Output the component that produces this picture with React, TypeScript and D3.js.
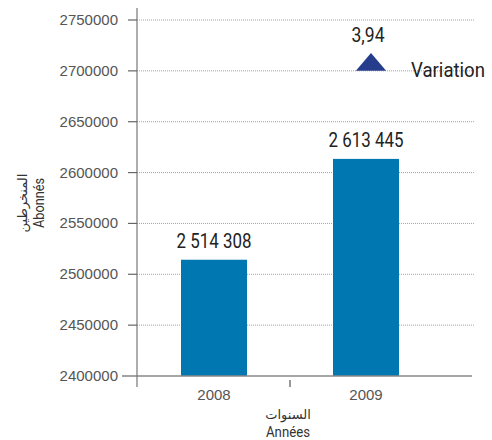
import React from "react";
import * as d3 from "d3";

const categories = ["2008", "2009"];
const values = [2514308, 2613445];
const valueLabels = ["2 514 308", "2 613 445"];
const yTicks = [2400000, 2450000, 2500000, 2550000, 2600000, 2650000, 2700000, 2750000];
const variationValue = "3,94";
const variationLabel = "Variation";
const variationLevel = 2700000;
const yTitleAr = "المنخرطين";
const yTitleFr = "Abonnés";
const xTitleAr = "السنوات";
const xTitleFr = "Années";

const W = 492;
const H = 440;
const narrow = "Roboto, 'Liberation Sans', sans-serif";
const regular = "'Liberation Sans', Arial, sans-serif";
const arabic = "'DejaVu Sans', 'Noto Sans', sans-serif";

export default function App() {
  const axisX = 137;
  const y = d3.scaleLinear().domain([2400000, 2750000]).range([376, 20]);
  const x = d3.scaleBand<string>().domain(categories).range([138, 442]).padding(0);
  const barW = 66;
  const gridEnd = 474;

  const tri = d3.symbol().type(d3.symbolTriangle).size(300)();

  return (
    <svg width={W} height={H} style={{ position: "absolute", left: 0, top: 0 }}>
      <rect width={W} height={H} fill="#fff" />
      {yTicks.filter((t) => t !== 2400000).map((t) => (
        <line key={"g" + t} x1={axisX} x2={gridEnd} y1={y(t)} y2={y(t)} stroke="#8a8a8a" strokeWidth={0.8} strokeDasharray="1,1" />
      ))}
      {categories.map((c, i) => {
        const cx = (x(c) as number) + x.bandwidth() / 2;
        return (
          <g key={c}>
            <rect x={cx - barW / 2} y={y(values[i])} width={barW} height={y(2400000) - y(values[i])} fill="#0077b0" />
            <text x={cx} y={y(values[i]) - 12} textAnchor="middle" fontFamily={narrow} fontSize={21} fill="#222" textLength={75} lengthAdjust="spacingAndGlyphs">{valueLabels[i]}</text>
            <text x={cx} y={400} textAnchor="middle" fontFamily={regular} fontSize={15} fill="#555">{c}</text>
          </g>
        );
      })}
      <line x1={axisX} x2={axisX} y1={8} y2={387} stroke="#777" strokeWidth={1.2} />
      {yTicks.map((t) => (
        <g key={"t" + t}>
          <line x1={t === 2400000 ? 122 : 128} x2={axisX} y1={y(t)} y2={y(t)} stroke="#666" strokeWidth={1.2} />
          <text x={118} y={y(t) + 5} textAnchor="end" fontFamily={regular} fontSize={15} fill="#555">
            {String(t)}
          </text>
        </g>
      ))}
      <line x1={axisX} x2={472} y1={y(2400000)} y2={y(2400000)} stroke="#888" strokeWidth={1.5} />
      <line x1={x("2009") as number} x2={x("2009") as number} y1={380} y2={387} stroke="#555" strokeWidth={1.2} />
      <g transform={`translate(${(x("2009") as number) + x.bandwidth() / 2 + 5},${y(variationLevel) - 6}) scale(1.15,0.78)`}>
        <path d={tri as string} fill="#253d8c" />
      </g>
      <text x={368} y={42} textAnchor="middle" fontFamily={narrow} fontSize={21} fill="#222" textLength={33} lengthAdjust="spacingAndGlyphs">{variationValue}</text>
      <text x={411} y={77} fontFamily={narrow} fontSize={19.5} fill="#222" textLength={74} lengthAdjust="spacingAndGlyphs">{variationLabel}</text>
      <g transform="translate(44,203) rotate(-90)">
        <text x={0} y={0} textAnchor="middle" fontFamily={narrow} fontSize={15} fill="#333" textLength={50} lengthAdjust="spacingAndGlyphs">{yTitleFr}</text>
        <text x={0} y={-17} textAnchor="middle" fontFamily={arabic} fontSize={13} fill="#333">{yTitleAr}</text>
      </g>
      <text x={288} y={419} textAnchor="middle" fontFamily={arabic} fontSize={13} fill="#333">{xTitleAr}</text>
      <text x={288} y={437} textAnchor="middle" fontFamily={narrow} fontSize={15} fill="#333" textLength={44} lengthAdjust="spacingAndGlyphs">{xTitleFr}</text>
    </svg>
  );
}
